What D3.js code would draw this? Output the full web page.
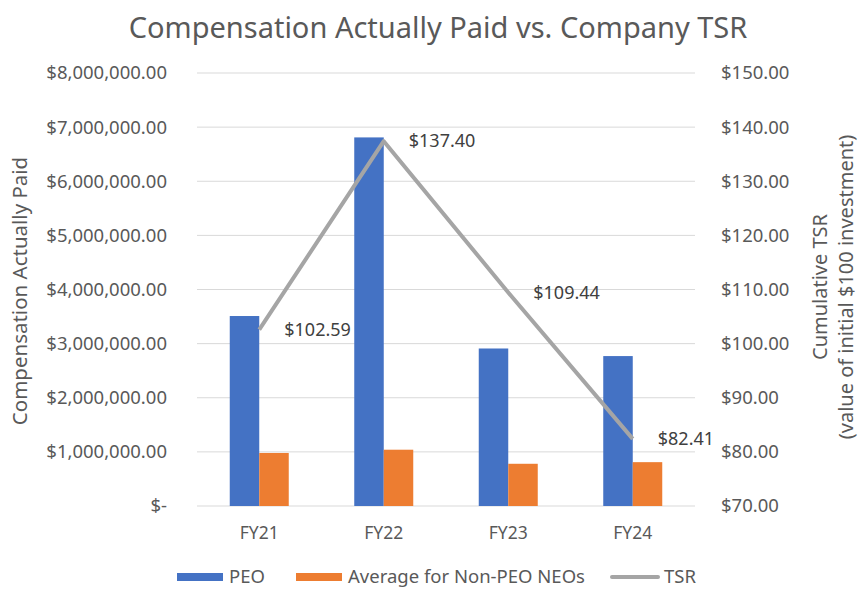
<!DOCTYPE html>
<html>
<head>
<meta charset="utf-8">
<script src="https://cdn.jsdelivr.net/npm/d3@7"></script>
<style>
  body { margin: 0; background: #fff; }
  text { font-family: "Noto Sans", "Open Sans", sans-serif; fill: #595959; }
</style>
</head>
<body>
<svg id="chart" width="866" height="593"></svg>
<script>
// data
var years = ["FY21", "FY22", "FY23", "FY24"];
var peoPaid = [3510000, 6810000, 2910000, 2770000];
var neoPaid = [980000, 1040000, 780000, 810000];
var tsr = [102.59, 137.40, 109.44, 82.41];
var leftTicks = [0, 1000000, 2000000, 3000000, 4000000, 5000000, 6000000, 7000000, 8000000];
var rightTicks = [70, 80, 90, 100, 110, 120, 130, 140, 150];

var svg = d3.select("#chart"),
    plotLeft = 197, plotRight = 695, plotTop = 73, plotBottom = 506;

var x = d3.scaleBand().domain(years).range([plotLeft, plotRight]),
    sub = d3.scaleBand().domain(["peo", "neo"]).range([x.bandwidth() / 2 - 29.5, x.bandwidth() / 2 + 29.5]),
    y = d3.scaleLinear().domain([0, 8000000]).range([plotBottom, plotTop]),
    y2 = d3.scaleLinear().domain([70, 150]).range([plotBottom, plotTop]);

var fmtLeft = function(d) { return d === 0 ? "$-" : "$" + d3.format(",.2f")(d); };
var fmtRight = function(d) { return "$" + d3.format(".2f")(d); };

// title
svg.append("text")
   .attr("x", 438).attr("y", 38)
   .attr("text-anchor", "middle")
   .attr("font-size", "29px")
   .text("Compensation Actually Paid vs. Company TSR");

// gridlines
svg.append("g").selectAll("line")
   .data(leftTicks)
   .enter().append("line")
   .attr("x1", plotLeft).attr("x2", plotRight)
   .attr("y1", function(d) { return y(d); })
   .attr("y2", function(d) { return y(d); })
   .attr("stroke", "#d9d9d9").attr("stroke-width", 1);

// left axis labels
svg.append("g").selectAll("text")
   .data(leftTicks)
   .enter().append("text")
   .attr("x", 167)
   .attr("y", function(d) { return y(d); })
   .attr("dy", "0.35em")
   .attr("text-anchor", "end")
   .attr("font-size", "18.5px")
   .text(fmtLeft);

// right axis labels
svg.append("g").selectAll("text")
   .data(rightTicks)
   .enter().append("text")
   .attr("x", 721)
   .attr("y", function(d) { return y2(d); })
   .attr("dy", "0.35em")
   .attr("font-size", "18.5px")
   .text(fmtRight);

// category labels
svg.append("g").selectAll("text")
   .data(years)
   .enter().append("text")
   .attr("x", function(d) { return x(d) + x.bandwidth() / 2; })
   .attr("y", 539)
   .attr("text-anchor", "middle")
   .attr("font-size", "17.5px")
   .text(function(d) { return d; });

// axis titles
svg.append("text")
   .attr("transform", "translate(27,291) rotate(-90)")
   .attr("text-anchor", "middle")
   .attr("font-size", "20.5px")
   .text("Compensation Actually Paid");

var rt = svg.append("text")
   .attr("transform", "translate(827,287) rotate(-90)")
   .attr("text-anchor", "middle")
   .attr("font-size", "20px");
rt.append("tspan").attr("x", 0).attr("dy", 0).text("Cumulative TSR");
rt.append("tspan").attr("x", 0).attr("dy", "1.3em").text("(value of initial $100 investment)");

// bars
var g = svg.append("g");
g.selectAll(".peo")
 .data(peoPaid)
 .enter().append("rect")
 .attr("class", "peo")
 .attr("x", function(d, i) { return x(years[i]) + sub("peo"); })
 .attr("y", function(d) { return y(d); })
 .attr("width", sub.bandwidth())
 .attr("height", function(d) { return plotBottom - y(d); })
 .attr("fill", "#4472c4");

g.selectAll(".neo")
 .data(neoPaid)
 .enter().append("rect")
 .attr("class", "neo")
 .attr("x", function(d, i) { return x(years[i]) + sub("neo"); })
 .attr("y", function(d) { return y(d); })
 .attr("width", sub.bandwidth())
 .attr("height", function(d) { return plotBottom - y(d); })
 .attr("fill", "#ed7d31");

// TSR line
var line = d3.line()
    .x(function(d, i) { return x(years[i]) + x.bandwidth() / 2; })
    .y(function(d) { return y2(d); });

svg.append("path")
   .datum(tsr)
   .attr("d", line)
   .attr("fill", "none")
   .attr("stroke", "#a5a5a5")
   .attr("stroke-width", 4)
   .attr("stroke-linejoin", "round");

svg.append("g").selectAll("text")
   .data(tsr)
   .enter().append("text")
   .attr("x", function(d, i) { return x(years[i]) + x.bandwidth() / 2 + 25; })
   .attr("y", function(d) { return y2(d); })
   .attr("dy", "0.35em")
   .attr("font-size", "18px")
   .style("fill", "#404040")
   .text(fmtRight);

// legend
var legend = [
    { name: "PEO", color: "#4472c4", type: "rect", x: 177 },
    { name: "Average for Non-PEO NEOs", color: "#ed7d31", type: "rect", x: 296 },
    { name: "TSR", color: "#a5a5a5", type: "line", x: 612 }
];
var lg = svg.append("g").selectAll("g")
    .data(legend)
    .enter().append("g")
    .attr("transform", function(d) { return "translate(" + d.x + ",577)"; });

lg.filter(function(d) { return d.type === "rect"; })
  .append("rect")
  .attr("x", 0).attr("y", -4)
  .attr("width", 46).attr("height", 8)
  .attr("fill", function(d) { return d.color; });

lg.filter(function(d) { return d.type === "line"; })
  .append("line")
  .attr("x1", 0).attr("x2", 46)
  .attr("stroke", function(d) { return d.color; })
  .attr("stroke-width", 4)
  .attr("stroke-linecap", "round");

lg.append("text")
  .attr("x", 52)
  .attr("dy", "0.35em")
  .attr("font-size", "18.5px")
  .text(function(d) { return d.name; });
</script>
</body>
</html>
